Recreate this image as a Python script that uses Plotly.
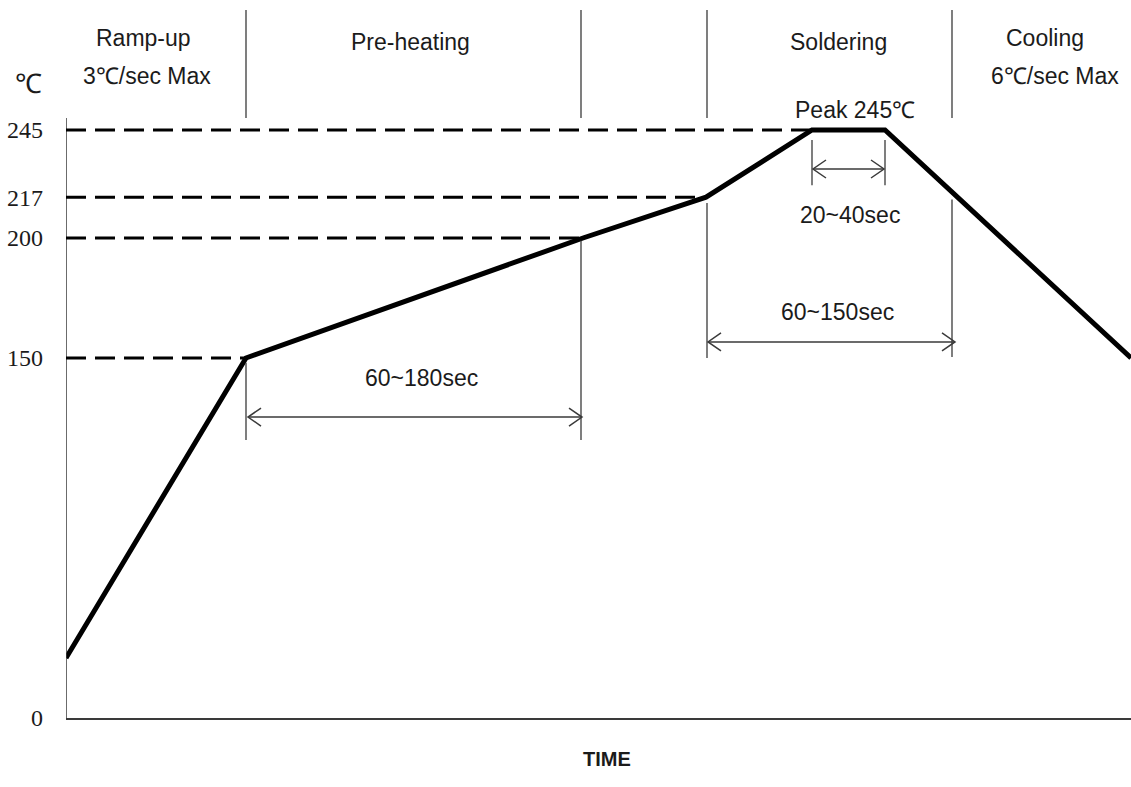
import plotly.graph_objects as go

# ---- data ----
time = [0, 180, 517, 640, 746, 819, 1065]          # arbitrary time units
temp = [25, 150, 200, 217, 245, 245, 150]           # ℃

ref_levels = [150, 200, 217, 245]
ref_times = [180, 517, 640, 746]                    # where the curve reaches each level

tick_vals = [0, 150, 200, 217, 245]
tick_text = ["0", "150", "200", "217", "245"]

phase_bounds = [180, 515, 641, 886]
phase_top = [295, 250]
phase_low = [(148, 115.8), (199, 115.8), (214.6, 150), (216, 150.4)]
peak_bounds = [746, 819]
peak_low = (240.8, 222)

span_labels = ["60~180sec", "60~150sec", "20~40sec"]
span_start = [182, 642, 747]
span_end = [516, 889, 818]
span_level = [125.4, 156.7, 228.75]
span_text_pos = [(355, 141.7), (771, 169.2), (784, 209.6)]

header_text = ["Ramp-up", "3℃/sec Max", "Pre-heating", "Soldering", "Cooling", "6℃/sec Max", "Peak 245℃"]
header_pos = [(77, 283.3), (81, 267.5), (344, 281.7), (772, 281.7), (979, 283.3), (989, 267.5), (789, 253.3)]

X_MAX = 1065
PLOT_H = 718
Y_MAX = PLOT_H / 2.4
FIG_W, FIG_H = 1131, 787

SANS = "Liberation Sans, Arial, sans-serif"
SERIF = "Liberation Serif, Times New Roman, serif"
TXT = "#1b1b1b"
GREY = "#3a3a3a"

fig = go.Figure()
fig.add_trace(go.Scatter(x=time, y=temp, mode="lines",
                         line=dict(color="black", width=5), hoverinfo="skip",
                         showlegend=False))

shapes = []
# y-axis line
shapes.append(dict(type="line", xref="x", yref="y", x0=0, x1=0, y0=0, y1=250,
                   line=dict(color=GREY, width=1.5)))
# dashed reference lines
for lv, t in zip(ref_levels, ref_times):
    shapes.append(dict(type="line", xref="x", yref="y", x0=0, x1=t, y0=lv, y1=lv,
                       line=dict(color="black", width=3, dash="20px,9px")))
# phase dividers
for b, (lo0, lo1) in zip(phase_bounds, phase_low):
    shapes.append(dict(type="line", xref="x", yref="y", x0=b, x1=b,
                       y0=phase_top[0], y1=phase_top[1], line=dict(color=GREY, width=1.3)))
    shapes.append(dict(type="line", xref="x", yref="y", x0=b, x1=b,
                       y0=lo0, y1=lo1, line=dict(color=GREY, width=1.3)))
for b in peak_bounds:
    shapes.append(dict(type="line", xref="x", yref="y", x0=b, x1=b,
                       y0=peak_low[0], y1=peak_low[1], line=dict(color=GREY, width=1.3)))
# double arrows
for s, e, lv in zip(span_start, span_end, span_level):
    shapes.append(dict(type="line", xref="x", yref="y", x0=s, x1=e, y0=lv, y1=lv,
                       line=dict(color=GREY, width=1.5)))
    shapes.append(dict(type="path", xref="x", yref="y", xsizemode="pixel", ysizemode="pixel",
                       xanchor=s, yanchor=lv, path="M 13 9 L 0 0 L 13 -9",
                       line=dict(color=GREY, width=1.5)))
    shapes.append(dict(type="path", xref="x", yref="y", xsizemode="pixel", ysizemode="pixel",
                       xanchor=e, yanchor=lv, path="M -13 9 L 0 0 L -13 -9",
                       line=dict(color=GREY, width=1.5)))

annotations = []
for txt, (x, y) in zip(header_text, header_pos):
    annotations.append(dict(x=x, y=y, xref="x", yref="y", text=txt, showarrow=False,
                            font=dict(family=SANS, size=23, color=TXT)))
for txt, (x, y) in zip(span_labels, span_text_pos):
    annotations.append(dict(x=x, y=y, xref="x", yref="y", text=txt, showarrow=False,
                            font=dict(family=SANS, size=23, color=TXT)))
annotations.append(dict(x=-22 / X_MAX, y=264.2, xref="paper", yref="y", text="℃",
                        xanchor="right", showarrow=False,
                        font=dict(family=SERIF, size=27, color=TXT)))
annotations.append(dict(x=(607 - 66) / X_MAX, y=-54 / PLOT_H, xref="paper", yref="paper",
                        text="<b>TIME</b>", showarrow=False,
                        font=dict(family=SANS, size=20, color=TXT)))

fig.update_layout(
    width=FIG_W, height=FIG_H,
    margin=dict(l=66, r=0, t=0, b=FIG_H - PLOT_H),
    paper_bgcolor="white", plot_bgcolor="white",
    shapes=shapes, annotations=annotations,
    xaxis=dict(range=[0, X_MAX], showline=True, linecolor=GREY, linewidth=2,
               showgrid=False, zeroline=False, showticklabels=False, ticks=""),
    yaxis=dict(range=[0, Y_MAX], showline=False, showgrid=False, zeroline=False,
               tickvals=tick_vals, ticktext=tick_text, ticks="", ticklabelstandoff=22,
               tickfont=dict(family=SERIF, size=24, color=TXT)),
)

fig.write_html("out.html", config={"displayModeBar": False},
               post_script="document.body.style.margin='0';document.body.style.overflow='hidden';")
